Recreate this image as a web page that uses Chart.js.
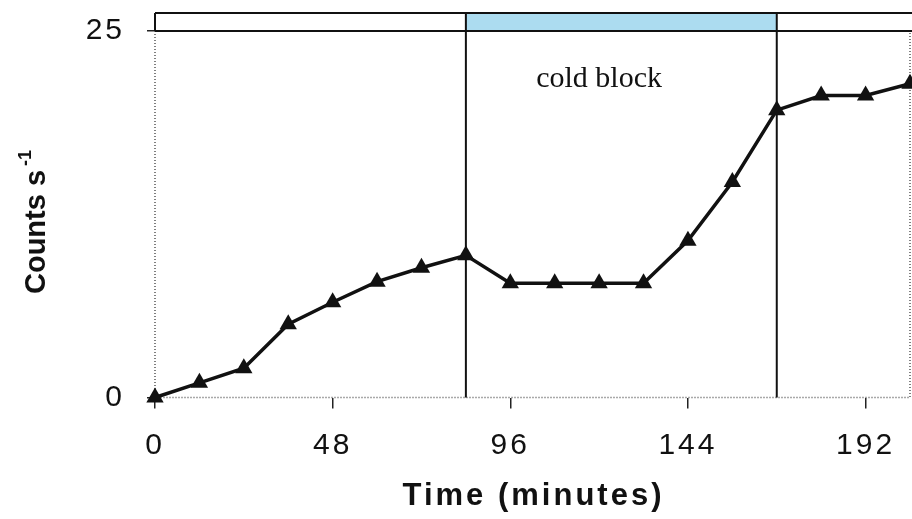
<!DOCTYPE html>
<html lang="en">
<head>
  <meta charset="UTF-8">
  <title>Counts vs time</title>
  <script src="https://cdn.jsdelivr.net/npm/chart.js"></script>
  <style>
    html, body { margin: 0; padding: 0; background: #fff; }
    canvas { display: block; }
  </style>
</head>
<body>
  <canvas id="grafico" width="912" height="519"></canvas>

  <script>
  // readings every 12 minutes
  const tempos = [0, 12, 24, 36, 48, 60, 72, 84, 96, 108, 120, 132, 144, 156, 168, 180, 192, 204];
  const contagens = [0, 1.0, 2.0, 5.0, 6.5, 7.9, 8.85, 9.7, 7.8, 7.8, 7.8, 7.8, 10.7, 14.7, 19.6, 20.6, 20.6, 21.4];
  const ticksX = [0, 48, 96, 144, 192];
  const ticksY = [0, 25];
  // cold block interval (minutes)
  const blocoFrio = [84, 168];
  const textoBloco = 'cold block';

  const fonte = 'Liberation Sans, Arial, sans-serif';

  // no extra room for the end labels, the plot box is fixed
  const semPadding = s => {
    s.paddingTop = 0;
    s.paddingBottom = 0;
    s.paddingLeft = 0;
    s.paddingRight = 0;
  };

  const extras = {
    id: 'extras',
    beforeDraw(chart) {
      // wide spacing for the tick numbers
      chart.ctx.letterSpacing = '3px';
    },
    beforeDatasetsDraw(chart) {
      const { ctx, chartArea: a, scales: { x, y } } = chart;
      ctx.save();
      ctx.letterSpacing = '0px';

      // dotted frame: left, bottom, right
      ctx.strokeStyle = '#555';
      ctx.lineWidth = 1.5;
      ctx.setLineDash([1, 2]);
      ctx.beginPath();
      ctx.moveTo(a.left, a.top);
      ctx.lineTo(a.left, a.bottom);
      ctx.lineTo(a.right, a.bottom);
      ctx.lineTo(a.right, a.top);
      ctx.stroke();
      ctx.setLineDash([]);

      // band above the plot with the cold block shaded
      const topo = a.top - 18;
      const y25 = y.getPixelForValue(25);
      const x1 = x.getPixelForValue(blocoFrio[0]);
      const x2 = x.getPixelForValue(blocoFrio[1]);
      ctx.fillStyle = '#acdcf0';
      ctx.fillRect(x1, topo, x2 - x1, y25 - topo);

      ctx.strokeStyle = '#111';
      ctx.lineWidth = 2;
      ctx.beginPath();
      ctx.moveTo(a.left, topo);
      ctx.lineTo(chart.width, topo);
      ctx.moveTo(a.left, y25);
      ctx.lineTo(chart.width, y25);
      ctx.moveTo(a.left, topo);
      ctx.lineTo(a.left, y25);
      ctx.moveTo(x1, topo);
      ctx.lineTo(x1, a.bottom);
      ctx.moveTo(x2, topo);
      ctx.lineTo(x2, a.bottom);
      ctx.stroke();

      ctx.fillStyle = '#111';
      ctx.font = '30px "Liberation Serif", "Times New Roman", serif';
      ctx.textAlign = 'center';
      ctx.textBaseline = 'alphabetic';
      ctx.fillText(textoBloco, x.getPixelForValue(120), a.top + 56);
      ctx.restore();
    },
    afterDraw(chart) {
      const { ctx, chartArea: a } = chart;
      ctx.save();
      ctx.fillStyle = '#111';

      // x title
      ctx.letterSpacing = '3px';
      ctx.font = 'bold 31px ' + fonte;
      ctx.textAlign = 'center';
      ctx.textBaseline = 'middle';
      ctx.fillText('Time (minutes)', (a.left + a.right) / 2 + 1, 496);

      // y title with superscript
      ctx.letterSpacing = '0px';
      const principal = 'Counts s';
      const sup = '-1';
      ctx.font = 'bold 29px ' + fonte;
      const w1 = ctx.measureText(principal).width;
      ctx.font = 'bold 18px ' + fonte;
      const w2 = ctx.measureText(sup).width;
      const total = w1 + 4 + w2;
      ctx.translate(45, 222);
      ctx.rotate(-Math.PI / 2);
      ctx.textAlign = 'left';
      ctx.textBaseline = 'alphabetic';
      ctx.font = 'bold 29px ' + fonte;
      ctx.fillText(principal, -total / 2, 0);
      ctx.font = 'bold 18px ' + fonte;
      ctx.fillText(sup, -total / 2 + w1 + 4, -14);
      ctx.restore();
    }
  };

  const ctx = document.getElementById('grafico').getContext('2d');
  new Chart(ctx, {
    type: 'line',
    data: {
      datasets: [{
        data: tempos.map((t, i) => ({ x: t, y: contagens[i] })),
        borderColor: '#111',
        borderWidth: 3.5,
        pointStyle: 'triangle',
        pointRadius: 10,
        pointBackgroundColor: '#111',
        pointBorderColor: '#111',
        pointBorderWidth: 0,
        tension: 0,
        clip: false
      }]
    },
    options: {
      responsive: false,
      animation: false,
      layout: { autoPadding: false, padding: { top: 31, right: 2, left: 0, bottom: 0 } },
      plugins: {
        legend: { display: false },
        tooltip: { enabled: false }
      },
      scales: {
        x: {
          type: 'linear',
          min: 0,
          max: 204,
          afterBuildTicks: s => { s.ticks = ticksX.map(v => ({ value: v })); },
          afterFit: s => { s.height = 121.5; semPadding(s); },
          ticks: {
            color: '#111',
            font: { family: fonte, size: 30 },
            padding: 19,
            maxRotation: 0,
            autoSkip: false
          },
          grid: {
            drawOnChartArea: false,
            drawTicks: true,
            tickLength: 11,
            color: '#222',
            lineWidth: 1.5
          },
          border: { display: false }
        },
        y: {
          min: 0,
          max: 25,
          afterBuildTicks: s => { s.ticks = ticksY.map(v => ({ value: v })); },
          afterFit: s => { s.width = 155; semPadding(s); },
          ticks: {
            color: '#111',
            font: { family: fonte, size: 30 },
            padding: 22
          },
          grid: {
            drawOnChartArea: false,
            drawTicks: true,
            tickLength: 8,
            color: '#222',
            lineWidth: 1.5
          },
          border: { display: false }
        }
      }
    },
    plugins: [extras]
  });
  </script>
</body>
</html>
